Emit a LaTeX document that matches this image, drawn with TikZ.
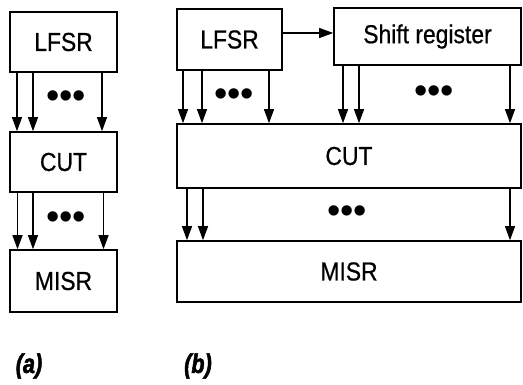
\documentclass[tikz,border=0pt]{standalone}
\usepackage{fontspec}
\setmainfont{Liberation Sans}
\newfontfamily\condfont[FakeStretch=0.88,FakeBold=0.6]{Liberation Sans}
\newfontfamily\labfont[FakeStretch=0.8,FakeBold=1.8]{Liberation Sans Bold Italic}
\usetikzlibrary{arrows.meta}
\begin{document}
\begin{tikzpicture}[x=1pt,y=-1pt,
  blk/.style={draw, line width=1.6pt, inner sep=0pt, font=\condfont\fontsize{26}{30}\selectfont},
  sig/.style={line width=1.2pt, -{Triangle[length=14pt,width=10pt]}},
  dotsnode/.style={inner sep=0pt, font=\fontsize{38}{38}\selectfont},
  lab/.style={inner sep=0pt, font=\labfont\fontsize{27}{30}\selectfont}]
\useasboundingbox (0,0) rectangle (523,385);
% (a)
\node[blk, minimum width=107pt, minimum height=60pt] (la) at (63.5,42) {LFSR};
\node[blk, minimum width=107pt, minimum height=60pt] (ca) at (63.5,162) {CUT};
\node[blk, minimum width=107pt, minimum height=62pt] (ma) at (63.5,281) {MISR};
\foreach \dx in {-46.5,-30.5,38.5} {
  \coordinate (p) at ([xshift=\dx pt]la.south);
  \draw[sig] (p) -- (p |- ca.north);
}
\foreach \dx in {-46,-30.5,40} {
  \coordinate (p) at ([xshift=\dx pt]ca.south);
  \draw[sig] (p) -- (p |- ma.north);
}
\node[dotsnode] (da1) at (66,100) {•••};
\node[dotsnode] (da2) at (66,221) {•••};
% (b)
\node[blk, minimum width=105pt, minimum height=61pt] (lb) at (229.5,39.5) {LFSR};
\node[blk, minimum width=187pt, minimum height=57pt] (sb) at (427.5,36.5) {Shift register};
\node[blk, minimum width=344pt, minimum height=64pt] (cb) at (349,156) {CUT};
\node[blk, minimum width=344pt, minimum height=61pt] (mb) at (349,271.5) {MISR};
\draw[sig] (lb.east |- 0,33) -- (sb.west |- 0,33);
\foreach \dx in {-46.5,-27.5,39.5} {
  \coordinate (p) at ([xshift=\dx pt]lb.south);
  \draw[sig] (p) -- (p |- cb.north);
}
\foreach \dx in {-84.5,-68.5,82.5} {
  \coordinate (p) at ([xshift=\dx pt]sb.south);
  \draw[sig] (p) -- (p |- cb.north);
}
\foreach \dx in {-162,-146,161} {
  \coordinate (p) at ([xshift=\dx pt]cb.south);
  \draw[sig] (p) -- (p |- mb.north);
}
\node[dotsnode] (db1) at (234,98) {•••};
\node[dotsnode] (db2) at (434,95) {•••};
\node[dotsnode] (db3) at (347,215) {•••};
% labels
\node[lab] (labA) at (29,366) {(a)};
\node[lab] (labB) at (198,366) {(b)};
\end{tikzpicture}
\end{document}
